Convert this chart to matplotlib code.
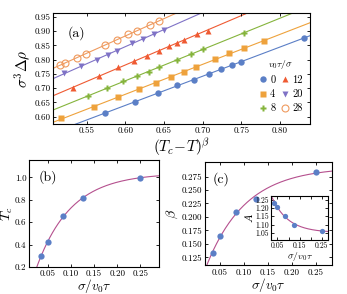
import numpy as np
import matplotlib
matplotlib.use("Agg")
import matplotlib.pyplot as plt

plt.rcParams['font.family'] = ['cmr10', 'DejaVu Serif']
plt.rcParams['mathtext.fontset'] = 'cm'
plt.rcParams['axes.formatter.use_mathtext'] = True
plt.rcParams['axes.unicode_minus'] = False

# ---- panel (a) data ----
speeds = ["0", "4", "8", "12", "20", "28"]
x_v0 = [0.574, 0.612, 0.642, 0.667, 0.689, 0.708, 0.724, 0.738, 0.750, 0.831]
y_v0 = [0.613, 0.650, 0.684, 0.710, 0.728, 0.751, 0.767, 0.782, 0.793, 0.875]
x_v4 = [0.517, 0.559, 0.591, 0.617, 0.640, 0.659, 0.676, 0.691, 0.716, 0.734, 0.753, 0.780]
y_v4 = [0.594, 0.635, 0.668, 0.696, 0.719, 0.740, 0.757, 0.774, 0.801, 0.822, 0.840, 0.867]
x_v8 = [0.551, 0.576, 0.597, 0.615, 0.630, 0.644, 0.667, 0.685, 0.700, 0.753]
y_v8 = [0.672, 0.699, 0.725, 0.743, 0.758, 0.773, 0.798, 0.820, 0.838, 0.893]
x_v12 = [0.532, 0.566, 0.591, 0.611, 0.628, 0.643, 0.656, 0.667, 0.676, 0.693, 0.707]
y_v12 = [0.701, 0.741, 0.773, 0.795, 0.814, 0.832, 0.847, 0.860, 0.870, 0.889, 0.901]
x_v20 = [0.520, 0.543, 0.563, 0.577, 0.589, 0.608, 0.623, 0.637, 0.650]
y_v20 = [0.752, 0.778, 0.798, 0.816, 0.832, 0.858, 0.874, 0.891, 0.905]
x_v28 = [0.515, 0.522, 0.537, 0.549, 0.574, 0.589, 0.604, 0.615, 0.632, 0.643]
y_v28 = [0.781, 0.789, 0.805, 0.820, 0.853, 0.870, 0.890, 0.901, 0.922, 0.935]

# ---- panels (b), (c) data ----
inv_speed = [1/28, 1/20, 1/12, 1/8, 1/4]
Tc = [0.300, 0.425, 0.652, 0.812, 0.997]
beta = [0.133, 0.164, 0.210, 0.234, 0.283]
A = [1.232, 1.208, 1.150, 1.100, 1.063]

xs_a = [x_v0, x_v4, x_v8, x_v12, x_v20, x_v28]
ys_a = [y_v0, y_v4, y_v8, y_v12, y_v20, y_v28]
colors = ["#5b7fc6", "#eea23c", "#85b43c", "#ef5a32", "#7f72c6", "#ef9a5e"]
markers = ["o", "s", "P", "^", "v", "o"]
msizes = [4.6, 4.0, 4.3, 4.0, 4.0, 5.0]

fig = plt.figure(figsize=(3.47, 2.94), dpi=100)

def style(ax, fs=6.5):
    ax.tick_params(direction='in', top=True, right=True, labelsize=fs,
                   length=2.5, width=0.6, pad=2)
    for s in ax.spines.values():
        s.set_linewidth(0.8)

# (a)
ax = fig.add_axes([0.153, 0.578, 0.740, 0.377])
xx = np.linspace(0.50, 0.85, 50)
handles = []
for xd, yd, c, m, ms, lab in zip(xs_a, ys_a, colors, markers, msizes, speeds):
    p = np.polyfit(xd, yd, 1)
    ax.plot(xx, np.polyval(p, xx), color=c, lw=0.8, zorder=1)
    if lab == "28":
        h, = ax.plot(xd, yd, ls='none', marker=m, ms=ms, mfc='none', mec=c, mew=0.8, zorder=2, label=lab)
    else:
        h, = ax.plot(xd, yd, ls='none', marker=m, ms=ms, color=c, mec='none', zorder=2, label=lab)
    handles.append(h)
ax.set_xlim(0.5064, 0.8388)
ax.set_ylim(0.574, 0.963)
ax.set_xticks([0.55, 0.60, 0.65, 0.70, 0.75, 0.80])
ax.set_yticks([0.60, 0.65, 0.70, 0.75, 0.80, 0.85, 0.90, 0.95])
ax.xaxis.set_major_formatter(matplotlib.ticker.FormatStrFormatter('%.2f'))
ax.yaxis.set_major_formatter(matplotlib.ticker.FormatStrFormatter('%.2f'))
style(ax)
ax.set_xlabel(r'$(T_c\!-\!T)^\beta$', fontsize=11, labelpad=1)
ax.set_ylabel(r'$\sigma^3\Delta\rho$', fontsize=11, labelpad=1)
ax.text(0.055, 0.82, '(a)', transform=ax.transAxes, fontsize=10, va='center')
leg = ax.legend(handles, speeds, ncol=2, loc='lower right', bbox_to_anchor=(1.0, 0.03),
                title=r'$v_0\tau/\sigma$', fontsize=7.5, title_fontsize=7,
                frameon=False, handlelength=0.8, handletextpad=0.3,
                columnspacing=0.5, labelspacing=0.45, borderaxespad=0.3)

def fit_exp(x, y):
    x = np.asarray(x); y = np.asarray(y)
    best = None
    for k in np.linspace(1, 60, 600):
        M = np.column_stack([np.ones_like(x), np.exp(-k * x)])
        coef, *_ = np.linalg.lstsq(M, y, rcond=None)
        r = np.sum((M @ coef - y) ** 2)
        if best is None or r < best[0]:
            best = (r, k, coef)
    _, k, coef = best
    return lambda t: coef[0] + coef[1] * np.exp(-k * t)

curve_c = "#b5508e"
pt_c = "#5b7fc6"
tt = np.linspace(0.0, 0.3, 200)

# (b)
bx = fig.add_axes([0.084, 0.092, 0.374, 0.364])
f = fit_exp(inv_speed, Tc)
bx.plot(tt, f(tt), color=curve_c, lw=0.8)
bx.plot(inv_speed, Tc, 'o', color=pt_c, ms=4.5, mec='none')
bx.set_xlim(0.0098, 0.290)
bx.set_ylim(0.2, 1.155)
bx.set_xticks([0.05, 0.10, 0.15, 0.20, 0.25])
bx.set_yticks([0.2, 0.4, 0.6, 0.8, 1.0])
bx.xaxis.set_major_formatter(matplotlib.ticker.FormatStrFormatter('%.2f'))
bx.yaxis.set_major_formatter(matplotlib.ticker.FormatStrFormatter('%.1f'))
style(bx)
bx.set_xlabel(r'$\sigma/v_0\tau$', fontsize=9.5, labelpad=-0.5)
bx.set_ylabel(r'$T_c$', fontsize=10, labelpad=0)
bx.text(0.07, 0.84, '(b)', transform=bx.transAxes, fontsize=10, va='center')

# (c)
cx = fig.add_axes([0.591, 0.097, 0.365, 0.352])
g = fit_exp(inv_speed, beta)
cx.plot(tt, g(tt), color=curve_c, lw=0.8)
cx.plot(inv_speed, beta, 'o', color=pt_c, ms=4.5, mec='none')
cx.set_xlim(0.0198, 0.2825)
cx.set_ylim(0.110, 0.302)
cx.set_xticks([0.05, 0.10, 0.15, 0.20, 0.25])
cx.set_yticks([0.125, 0.150, 0.175, 0.200, 0.225, 0.250, 0.275])
cx.xaxis.set_major_formatter(matplotlib.ticker.FormatStrFormatter('%.2f'))
cx.yaxis.set_major_formatter(matplotlib.ticker.FormatStrFormatter('%.3f'))
style(cx)
cx.set_xlabel(r'$\sigma/v_0\tau$', fontsize=9.5, labelpad=-0.5)
cx.set_ylabel(r'$\beta$', fontsize=10, labelpad=1)
cx.text(0.06, 0.83, '(c)', transform=cx.transAxes, fontsize=10, va='center')

# inset
ix = fig.add_axes([0.781, 0.184, 0.165, 0.150])
h = fit_exp(inv_speed, A)
ix.plot(tt, h(tt), color=curve_c, lw=0.8)
ix.plot(inv_speed, A, 'o', color=pt_c, ms=3.8, mec='none')
ix.set_xlim(0.0206, 0.280)
ix.set_ylim(1.007, 1.274)
ix.set_xticks([0.05, 0.10, 0.15, 0.20, 0.25])
ix.set_xticklabels(['0.05', '', '0.15', '', '0.25'])
ix.set_yticks([1.05, 1.10, 1.15, 1.20, 1.25])
ix.yaxis.set_major_formatter(matplotlib.ticker.FormatStrFormatter('%.2f'))
style(ix, fs=5.5)
ix.tick_params(pad=1.5, length=2)
ix.set_xlabel(r'$\sigma/v_0\tau$', fontsize=7, labelpad=-0.5)
ix.set_ylabel(r'$A$', fontsize=8, labelpad=0.5)

fig.savefig('out.png', dpi=100)
